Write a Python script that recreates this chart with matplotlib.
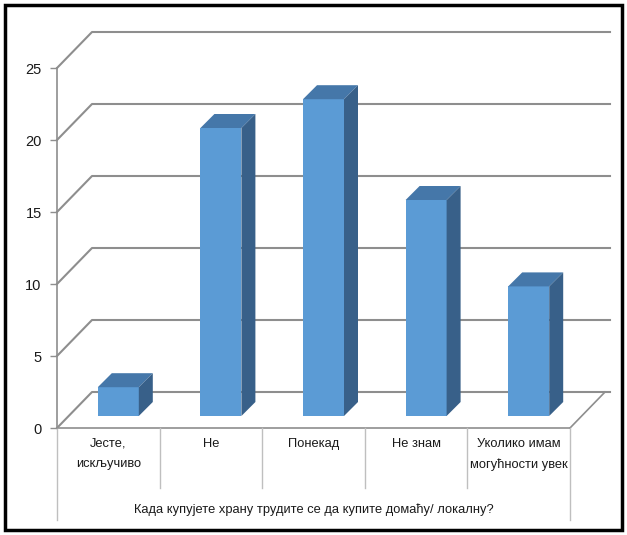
import matplotlib
matplotlib.use("Agg")
import matplotlib.pyplot as plt
from matplotlib.patches import Polygon, Rectangle

plt.rcParams['font.family'] = ['Liberation Sans', 'DejaVu Sans']

# data
categories = ["Јесте,\nискључиво", "Не", "Понекад", "Не знам", "Уколико имам\nмогућности увек"]
values = [2, 20, 22, 15, 9]
yticks = [0, 5, 10, 15, 20, 25]
axis_title = "Када купујете храну трудите се да купите домаћу/ локалну?"

# figure / axes geometry (pixels of the 627x535 picture)
W, H = 627, 535
x0_px, y0_px = 57, 428          # front corner of the plot (value 0)
cat_px = 102.6                  # width of one category
unit_px = 14.4                  # pixels per value unit

fig = plt.figure(figsize=(W / 100, H / 100), dpi=100)
ax = fig.add_axes([x0_px / W, (H - y0_px) / H, 5 * cat_px / W, 25 * unit_px / H])
ax.set_xlim(0, 5)
ax.set_ylim(0, 25)

def px2x(p):
    return p / cat_px

def px2y(p):
    return p / unit_px

grid_c = '#8e8e8e'
text_c = '#1a1a1a'

# 3D offsets
back_dx, back_dy = px2x(35), px2y(36)
bar_fx, bar_fy = px2x(10), px2y(12)
bar_dx, bar_dy = px2x(14), px2y(14)
bar_w = px2x(41)
wall_end = px2x(610 - x0_px)

# back wall gridlines + left diagonals
for t in yticks:
    ax.plot([0, back_dx, wall_end], [t, t + back_dy, t + back_dy],
            color=grid_c, lw=1.5, clip_on=False, zorder=1)

# floor right edge and front edge
ax.plot([5, 5 + back_dx], [0, back_dy], color=grid_c, lw=1.2, clip_on=False, zorder=1)
ax.plot([0, 5], [0, 0], color=grid_c, lw=1.2, clip_on=False, zorder=1)

# bars (front face + top + side)
front_c, top_c, side_c = '#5b9bd5', '#4577a9', '#386089'
for i, v in enumerate(values):
    left = i + 0.5 - bar_w / 2 + bar_fx
    right = left + bar_w
    b = bar_fy
    top = v + bar_fy
    ax.bar(left, v, width=bar_w, bottom=b, align='edge', color=front_c,
           edgecolor='none', zorder=3)
    ax.add_patch(Polygon([(left, top), (right, top), (right + bar_dx, top + bar_dy),
                          (left + bar_dx, top + bar_dy)], closed=True,
                         facecolor=top_c, edgecolor='none', zorder=3))
    ax.add_patch(Polygon([(right, b), (right + bar_dx, b + bar_dy),
                          (right + bar_dx, top + bar_dy), (right, top)], closed=True,
                         facecolor=side_c, edgecolor='none', zorder=3))

# y axis
for s in ['top', 'right', 'bottom']:
    ax.spines[s].set_visible(False)
ax.spines['left'].set_color(grid_c)
ax.spines['left'].set_linewidth(1.2)
ax.set_yticks(yticks)
ax.tick_params(axis='y', length=5, width=1.0, color=grid_c, labelcolor=text_c,
               labelsize=10.5, pad=6)
ax.set_xticks([])

# category dividers
for i in range(6):
    bottom = -px2y(520 - y0_px) if i in (0, 5) else -px2y(488 - y0_px)
    ax.plot([i, i], [0, bottom], color='#bfbfbf', lw=1.0, clip_on=False)

# category labels
for i, c in enumerate(categories):
    ax.text(i + 0.5, -px2y(438 - y0_px), c, ha='center', va='top', fontsize=9.3,
            color=text_c, linespacing=1.85)

ax.text(2.5, -px2y(510 - y0_px), axis_title, ha='center', va='center',
        fontsize=9.3, color=text_c)

# outer border
fig.add_artist(Rectangle((5 / W, 5 / H), 617 / W, 525 / H, transform=fig.transFigure,
                         fill=False, edgecolor='black', lw=2.5))

fig.savefig('out.png', dpi=100)
